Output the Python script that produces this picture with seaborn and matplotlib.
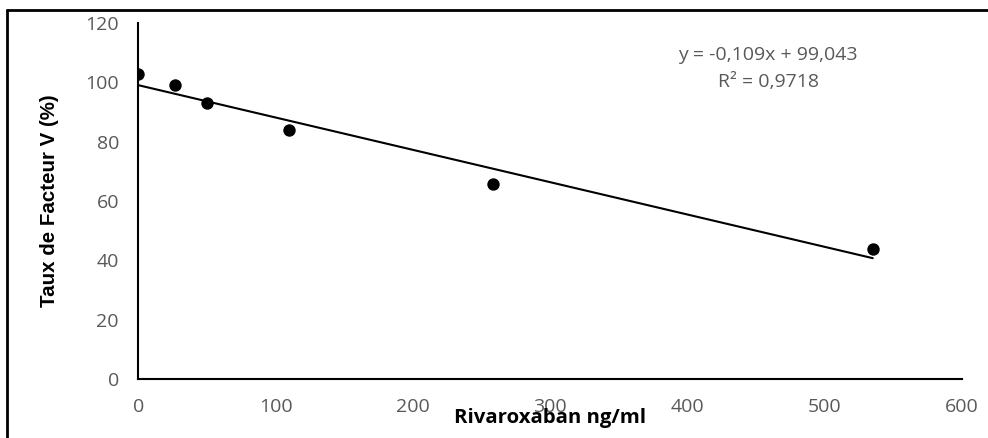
import matplotlib
matplotlib.use("Agg")
import matplotlib.pyplot as plt
import numpy as np
import pandas as pd
import seaborn as sns
from matplotlib.lines import Line2D

# data
rivaroxaban = [0, 26.6, 50, 110, 258, 535]
facteur_v = [102.7, 99.1, 93.2, 84.0, 65.7, 43.8]
slope = -0.109
intercept = 99.043
eq_text = "y = -0,109x + 99,043"
r2_text = "R² = 0,9718"
x_ticks = [0, 100, 200, 300, 400, 500, 600]
y_ticks = [0, 20, 40, 60, 80, 100, 120]

sns.set_style("white")
plt.rcParams["font.family"] = ["Open Sans", "DejaVu Sans"]

df = pd.DataFrame({"x": rivaroxaban, "y": facteur_v})
x_fit = np.array([min(rivaroxaban), max(rivaroxaban)])
fit = pd.DataFrame({"x": x_fit, "y": intercept + slope * x_fit})

fig = plt.figure(figsize=(9.88, 4.38), dpi=100)
ax = fig.add_axes([0.140, 0.1347, 0.8337, 0.8128])

sns.lineplot(data=fit, x="x", y="y", ax=ax, color="black", linewidth=1.5)
sns.scatterplot(data=df, x="x", y="y", ax=ax, color="black", s=80,
                edgecolor="black", linewidth=0, zorder=3)

ax.set_xlim(0, 600)
ax.set_ylim(0, 120)
ax.set_xticks(x_ticks)
ax.set_yticks(y_ticks)
ax.tick_params(axis="both", length=0, labelsize=14, labelcolor="#595959")
ax.tick_params(axis="x", pad=14)
ax.tick_params(axis="y", pad=14)
for s in ["top", "right"]:
    ax.spines[s].set_visible(False)
for s in ["left", "bottom"]:
    ax.spines[s].set_color("black")
    ax.spines[s].set_linewidth(1.5)

ax.set_xlabel("Rivaroxaban ng/ml", fontsize=14.7, fontweight="bold",
              color="black", labelpad=-6)
ax.set_ylabel("Taux de Facteur V (%)", fontsize=14.8, fontweight="bold",
              color="black", labelpad=19,
              family=["Liberation Sans", "DejaVu Sans"])

fig.text(768 / 988, 1 - 55 / 438, eq_text, ha="center", va="center",
         fontsize=14, color="#595959")
fig.text(768 / 988, 1 - 82 / 438, r2_text, ha="center", va="center",
         fontsize=14, color="#595959")

# outer chart frame (only top and left edges are visible in the crop)
fig.add_artist(Line2D([7 / 988, 1], [1 - 10 / 438, 1 - 10 / 438],
                      transform=fig.transFigure, color="black", linewidth=2))
fig.add_artist(Line2D([7 / 988, 7 / 988], [0, 1 - 10 / 438],
                      transform=fig.transFigure, color="black", linewidth=2))

fig.savefig("out.png", dpi=100)
plt.close(fig)
